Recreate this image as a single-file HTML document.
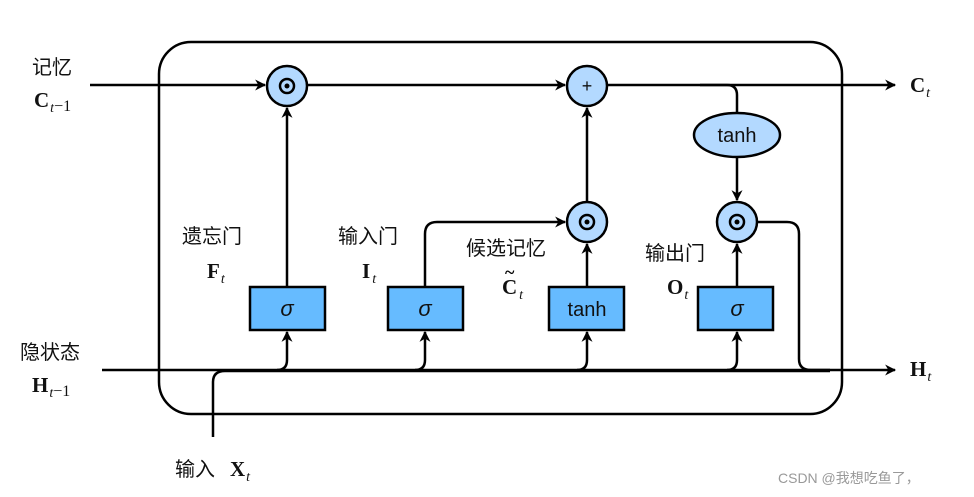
<!DOCTYPE html>
<html><head><meta charset="utf-8"><style>
body{margin:0;background:#fff;}
svg{display:block}
.cn{font-family:"Liberation Sans","Noto Sans CJK SC",sans-serif;font-size:20px;fill:#111}
.m{font-family:"Liberation Serif",serif;font-weight:bold;font-size:21px;fill:#111}
.s{font-family:"Liberation Serif",serif;font-style:italic;font-size:14px;font-weight:normal}
</style></head><body>
<svg width="974" height="497" viewBox="0 0 974 497" xmlns="http://www.w3.org/2000/svg">
<defs>
<marker id="a" viewBox="0 0 10 10" refX="9" refY="5" markerWidth="13" markerHeight="11" orient="auto-start-reverse" markerUnits="userSpaceOnUse"><path d="M0,0 L10,5 L0,10 L3,5 z" fill="#000"/></marker>
</defs>
<g fill="none" stroke="#000" stroke-width="2.5">
<rect x="159" y="42" width="683" height="372" rx="32"/>
<path d="M90,85 H265" marker-end="url(#a)"/>
<path d="M307,85 H565" marker-end="url(#a)"/>
<path d="M607,85 H895" marker-end="url(#a)"/>
<path d="M700,85 H727 Q737,85 737,95 V113"/>
<path d="M737,157 V200" marker-end="url(#a)"/>
<path d="M102,370 H830"/>
<path d="M213,437 V382 Q213,371 225,371 H830"/>
<path d="M277,370 Q287,370 287,360 V332" marker-end="url(#a)"/>
<path d="M415,370 Q425,370 425,360 V332" marker-end="url(#a)"/>
<path d="M577,370 Q587,370 587,360 V332" marker-end="url(#a)"/>
<path d="M727,370 Q737,370 737,360 V332" marker-end="url(#a)"/>
<path d="M287,287 V108" marker-end="url(#a)"/>
<path d="M425,287 V234 Q425,222 437,222 H565" marker-end="url(#a)"/>
<path d="M587,287 V244" marker-end="url(#a)"/>
<path d="M587,202 V108" marker-end="url(#a)"/>
<path d="M737,287 V244" marker-end="url(#a)"/>
<path d="M757,222 H787 Q799,222 799,234 V359 Q799,370 811,370 H895" marker-end="url(#a)"/>
</g>
<g stroke="#000" stroke-width="2.5" fill="#b3d9ff">
<circle cx="287" cy="86" r="20"/>
<circle cx="587" cy="86" r="20"/>
<circle cx="587" cy="222" r="20"/>
<circle cx="737" cy="222" r="20"/>
<ellipse cx="737" cy="135" rx="43" ry="22"/>
</g>
<g stroke="#000" stroke-width="2.5" fill="#66bbff">
<rect x="250" y="287" width="75" height="43"/>
<rect x="388" y="287" width="75" height="43"/>
<rect x="549" y="287" width="75" height="43"/>
<rect x="698" y="287" width="75" height="43"/>
</g>
<g stroke="#000" stroke-width="2.5" fill="none">
<circle cx="287" cy="86" r="7"/><circle cx="587" cy="222" r="7"/><circle cx="737" cy="222" r="7"/>
</g>
<g fill="#000"><circle cx="287" cy="86" r="2.5"/><circle cx="587" cy="222" r="2.5"/><circle cx="737" cy="222" r="2.5"/></g>
<g font-family="Liberation Sans,sans-serif" text-anchor="middle" fill="#111">
<text x="587" y="92" font-size="18">+</text>
<text x="737" y="142" font-size="20">tanh</text>
<text x="587" y="316" font-size="20">tanh</text>
<text x="287" y="316" font-size="22" font-style="italic">σ</text>
<text x="425" y="316" font-size="22" font-style="italic">σ</text>
<text x="737" y="316" font-size="22" font-style="italic">σ</text>
</g>
<text class="cn" x="32" y="74">记忆</text>
<text class="m" x="34" y="107">C<tspan class="s" dx="1" dy="5">t</tspan><tspan dy="-1" font-size="16" font-weight="normal">−1</tspan></text>
<text class="cn" x="20" y="359">隐状态</text>
<text class="m" x="32" y="392">H<tspan class="s" dx="1" dy="5">t</tspan><tspan dy="-1" font-size="16" font-weight="normal">−1</tspan></text>
<text class="cn" x="182" y="243">遗忘门</text>
<text class="m" x="207" y="278">F<tspan class="s" dx="1" dy="5">t</tspan></text>
<text class="cn" x="338" y="243">输入门</text>
<text class="m" x="362" y="278">I<tspan class="s" dx="2" dy="5">t</tspan></text>
<text class="cn" x="466" y="255">候选记忆</text>
<text class="m" x="502" y="294">C<tspan class="s" dx="2" dy="5">t</tspan></text>
<text x="505" y="278" font-family="Liberation Serif,serif" font-size="18" font-weight="bold">~</text>
<text class="cn" x="645" y="260">输出门</text>
<text class="m" x="667" y="294">O<tspan class="s" dx="1" dy="5">t</tspan></text>
<text class="cn" x="175" y="476">输入</text><text class="m" x="230" y="476">X<tspan class="s" dx="1" dy="5">t</tspan></text>
<text class="m" x="910" y="92">C<tspan class="s" dx="1" dy="5">t</tspan></text>
<text class="m" x="910" y="376">H<tspan class="s" dx="1" dy="5">t</tspan></text>
<text x="778" y="483" font-family="Liberation Sans,'Noto Sans CJK SC',sans-serif" font-size="14" fill="#999">CSDN @我想吃鱼了，</text>
</svg>
</body></html>
